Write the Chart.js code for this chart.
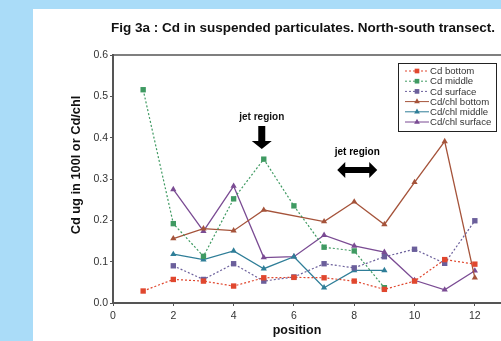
<!DOCTYPE html>
<html>
<head>
<meta charset="utf-8">
<script src="https://cdn.jsdelivr.net/npm/chart.js@4"></script>
<style>
  html, body { margin: 0; padding: 0; overflow: hidden; background: #aadcf8; }
  #wrap { position: absolute; left: 0; top: 0; width: 540px; height: 341px; }
</style>
</head>
<body>
<div id="wrap"><canvas id="chart1" width="540" height="341"></canvas></div>
<script>
// positions along the transect
var positions = [1, 2, 3, 4, 5, 6, 7, 8, 9, 10, 11, 12];

var cdBottom   = [0.029, 0.057, 0.053, 0.041, 0.061, 0.062, 0.061, 0.053, 0.033, 0.053, 0.105, 0.094];
var cdMiddle   = [0.516, 0.192, 0.113, 0.252, 0.348, 0.235, 0.135, 0.126, 0.037, null, null, null];
var cdSurface  = [null, 0.090, 0.057, 0.095, 0.053, 0.063, 0.095, 0.085, 0.112, 0.130, 0.096, 0.199];
var chlBottom  = [null, 0.156, 0.180, 0.175, 0.225, null, 0.197, 0.245, 0.190, 0.292, 0.391, 0.061];
var chlMiddle  = [null, 0.118, 0.105, 0.126, 0.083, 0.112, 0.037, 0.079, 0.079, null, null, null];
var chlSurface = [null, 0.275, 0.174, 0.283, 0.110, 0.112, 0.164, 0.138, 0.123, 0.055, 0.032, 0.078];

var xTicks = [0, 2, 4, 6, 8, 10, 12];
var yTicks = [0.0, 0.1, 0.2, 0.3, 0.4, 0.5, 0.6];

function pts(arr) {
    return positions.map(function (p, i) { return { x: p, y: arr[i] }; })
        .filter(function (d) { return d.y !== null; });
}

function series(label, arr, color, dotted, shape) {
    return {
        label: label,
        data: pts(arr),
        borderColor: color,
        backgroundColor: color,
        borderWidth: dotted ? 1.2 : 1.3,
        borderDash: dotted ? [2, 2] : [],
        pointStyle: shape,
        pointRadius: shape === 'rect' ? 3.8 : 3.6,
        pointBorderWidth: 0,
        tension: 0
    };
}

var datasets = [
    series('Cd bottom', cdBottom, '#e0472e', true, 'rect'),
    series('Cd middle', cdMiddle, '#3f9a62', true, 'rect'),
    series('Cd surface', cdSurface, '#6b5f9b', true, 'rect'),
    series('Cd/chl bottom', chlBottom, '#a5533a', false, 'triangle'),
    series('Cd/chl middle', chlMiddle, '#2f7e98', false, 'triangle'),
    series('Cd/chl surface', chlSurface, '#7a4b93', false, 'triangle')
];

var FONT = '"Liberation Sans", Arial, sans-serif';

var decor = {
    id: 'decor',
    beforeDraw: function (chart) {
        var ctx = chart.ctx;
        ctx.save();
        ctx.fillStyle = '#aadcf8';
        ctx.fillRect(0, 0, chart.width, chart.height);
        ctx.fillStyle = '#ffffff';
        ctx.fillRect(33, 9, chart.width - 33, chart.height - 9);
        ctx.restore();
    },
    afterDraw: function (chart) {
        var ctx = chart.ctx, a = chart.chartArea;
        var xs = chart.scales.x;
        ctx.save();
        // top frame line
        ctx.strokeStyle = '#555';
        ctx.lineWidth = 1.5;
        ctx.beginPath();
        ctx.moveTo(a.left, a.top);
        ctx.lineTo(a.right, a.top);
        ctx.stroke();

        ctx.fillStyle = '#111';
        ctx.textAlign = 'center';
        ctx.textBaseline = 'middle';
        ctx.font = 'bold 13.5px ' + FONT;
        ctx.fillText('Fig 3a : Cd in suspended particulates. North-south transect.', 303, 28);
        ctx.font = 'bold 12.5px ' + FONT;
        ctx.fillText('position', 297, 331);

        ctx.save();
        ctx.translate(76, 165);
        ctx.rotate(-Math.PI / 2);
        ctx.font = 'bold 12.8px ' + FONT;
        ctx.fillText('Cd ug in 100l or Cd/chl', 0, 0);
        ctx.restore();

        // jet region annotations
        ctx.font = 'bold 10px ' + FONT;
        var ax = xs.getPixelForValue(5) - 2;
        ctx.fillText('jet region', ax, 117);
        ctx.fillStyle = '#000';
        ctx.beginPath();
        ctx.moveTo(ax - 3.5, 126);
        ctx.lineTo(ax + 3.5, 126);
        ctx.lineTo(ax + 3.5, 141);
        ctx.lineTo(ax + 10, 141);
        ctx.lineTo(ax, 149);
        ctx.lineTo(ax - 10, 141);
        ctx.lineTo(ax - 3.5, 141);
        ctx.closePath();
        ctx.fill();

        var bx = xs.getPixelForValue(8.1);
        ctx.fillText('jet region', bx, 152);
        var by = 170;
        ctx.beginPath();
        ctx.moveTo(bx - 20, by);
        ctx.lineTo(bx - 12, by - 8);
        ctx.lineTo(bx - 12, by - 3);
        ctx.lineTo(bx + 12, by - 3);
        ctx.lineTo(bx + 12, by - 8);
        ctx.lineTo(bx + 20, by);
        ctx.lineTo(bx + 12, by + 8);
        ctx.lineTo(bx + 12, by + 3);
        ctx.lineTo(bx - 12, by + 3);
        ctx.lineTo(bx - 12, by + 8);
        ctx.closePath();
        ctx.fill();

        // legend box
        var lx = 398, ly = 63, lw = 98, lh = 68;
        ctx.fillStyle = '#fff';
        ctx.fillRect(lx, ly, lw, lh);
        ctx.strokeStyle = '#222';
        ctx.lineWidth = 1;
        ctx.strokeRect(lx + 0.5, ly + 0.5, lw, lh);
        ctx.font = '9.6px ' + FONT;
        ctx.textAlign = 'left';
        chart.data.datasets.forEach(function (ds, i) {
            var yy = ly + 8 + i * 10.2;
            ctx.strokeStyle = ds.borderColor;
            ctx.lineWidth = 1;
            ctx.setLineDash(ds.borderDash);
            ctx.beginPath();
            ctx.moveTo(lx + 7, yy);
            ctx.lineTo(lx + 31, yy);
            ctx.stroke();
            ctx.setLineDash([]);
            ctx.fillStyle = ds.borderColor;
            Chart.helpers.drawPoint(ctx, { pointStyle: ds.pointStyle, radius: 3.3, borderWidth: 0 }, lx + 19, yy);
            ctx.fillStyle = '#333';
            ctx.fillText(ds.label, lx + 32, yy + 0.5);
        });
        ctx.restore();
    }
};

new Chart(document.getElementById('chart1'), {
    type: 'line',
    data: { datasets: datasets },
    plugins: [decor],
    options: {
        responsive: false,
        animation: false,
        layout: { padding: { top: 55, right: 35, left: 0, bottom: 0 } },
        plugins: { legend: { display: false }, tooltip: { enabled: false } },
        scales: {
            x: {
                type: 'linear',
                min: 0,
                max: 13,
                afterBuildTicks: function (s) { s.ticks = xTicks.map(function (v) { return { value: v }; }); },
                afterFit: function (s) { s.height = 38; },
                grid: { display: true, drawOnChartArea: false, drawTicks: true, tickLength: 3, color: '#555' },
                border: { color: '#555', width: 2 },
                ticks: { color: '#333', font: { family: FONT, size: 10.5 }, padding: 4, maxRotation: 0 }
            },
            y: {
                min: 0,
                max: 0.6,
                afterBuildTicks: function (s) { s.ticks = yTicks.map(function (v) { return { value: v }; }); },
                afterFit: function (s) { s.width = 113; },
                grid: { display: true, drawOnChartArea: false, drawTicks: true, tickLength: 3, color: '#555' },
                border: { color: '#555', width: 2 },
                ticks: {
                    color: '#333', font: { family: FONT, size: 10.5 }, padding: 2,
                    callback: function (v) { return v.toFixed(1); }
                }
            }
        }
    }
});
</script>
</body>
</html>
